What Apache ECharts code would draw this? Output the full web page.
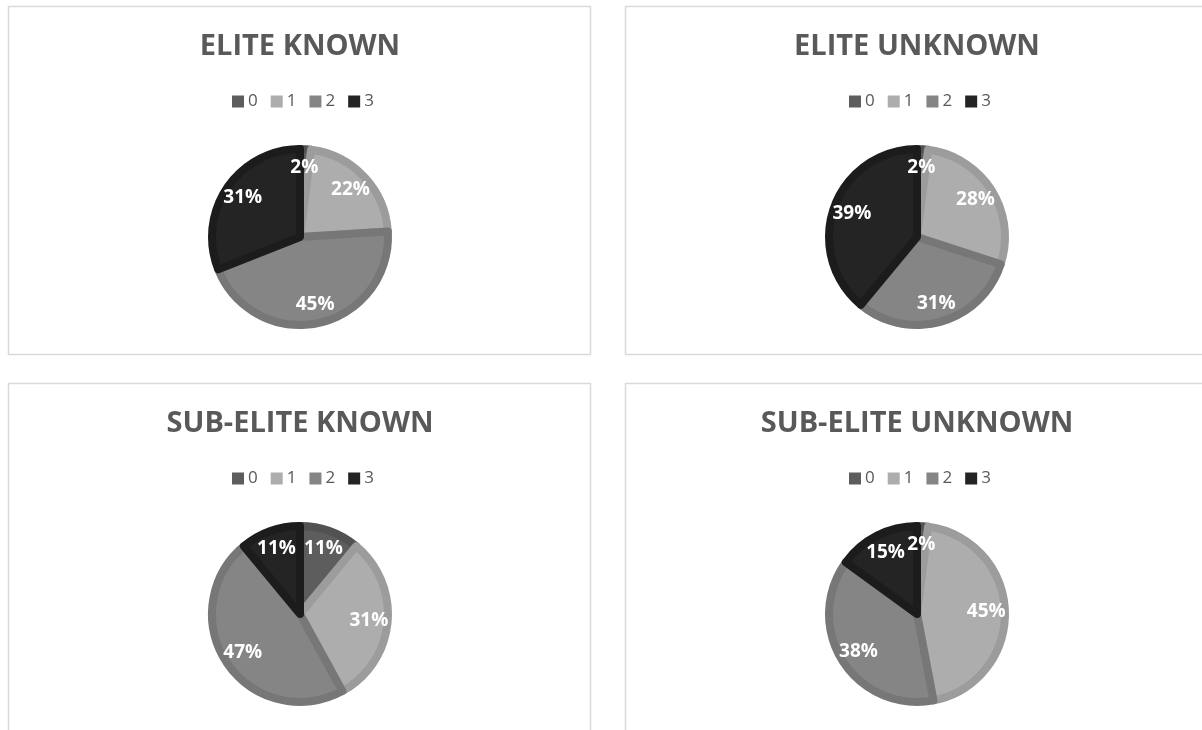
<!DOCTYPE html>
<html>
<head>
<meta charset="utf-8">
<script src="https://cdn.jsdelivr.net/npm/echarts@6/dist/echarts.min.js"></script>
<style>
  html, body { margin: 0; padding: 0; background: #fff; }
  #main { width: 1202px; height: 730px; }
</style>
</head>
<body>
<div id="main"></div>
<script>
// data
const categories = ['0', '1', '2', '3'];
const eliteKnown = [2, 22, 45, 31];
const eliteUnknown = [2, 28, 31, 39];
const subEliteKnown = [11, 31, 47, 11];
const subEliteUnknown = [2, 45, 38, 15];
const panelTitles = ['ELITE KNOWN', 'ELITE UNKNOWN', 'SUB-ELITE KNOWN', 'SUB-ELITE UNKNOWN'];
const panelValues = [eliteKnown, eliteUnknown, subEliteKnown, subEliteUnknown];

// fill / bevel colours per category
const fillColors = ['#5d5d5d', '#adadad', '#858585', '#242424'];
const ringColors = ['#525252', '#9c9c9c', '#777777', '#1c1c1c'];

// panel boxes (left, top)
const panels = [
  { x: 8, y: 6 },
  { x: 625, y: 6 },
  { x: 8, y: 383 },
  { x: 625, y: 383 }
];
const panelW = 582, panelH = 348;
const R = 92;

const chart = echarts.init(document.getElementById('main'));

const titles = [], legends = [], mainSeries = [], labelSeries = [], graphics = [];

panels.forEach(function (p, i) {
  const cx = p.x + panelW / 2 + 1;
  graphics.push({
    type: 'rect',
    z: -10,
    shape: { x: p.x + 0.5, y: p.y + 0.5, width: panelW, height: panelH },
    style: { fill: '#fff', stroke: '#d9d9d9', lineWidth: 1.5 }
  });
  titles.push({
    text: panelTitles[i],
    left: cx,
    top: p.y + 26,
    textAlign: 'center',
    padding: 0,
    textStyle: {
      fontFamily: 'Open Sans',
      fontWeight: 'bold',
      fontSize: 29,
      color: '#595959'
    }
  });
  legends.push({
    data: categories,
    left: p.x + 224,
    top: p.y + 87,
    padding: 0,
    icon: 'rect',
    itemWidth: 12,
    itemHeight: 12,
    itemGap: 13,
    selectedMode: false,
    itemStyle: { borderWidth: 0 },
    textStyle: { fontFamily: 'Open Sans', fontSize: 17, color: '#595959', padding: [0, 0, 0, -1] }
  });
  const data = categories.map(function (c, k) {
    return {
      name: c,
      value: panelValues[i][k],
      itemStyle: { color: fillColors[k], borderColor: ringColors[k] }
    };
  });
  mainSeries.push({
    type: 'pie',
    center: [cx, p.y + 231],
    radius: [0, R - 4],
    startAngle: 90,
    clockwise: true,
    silent: true,
    label: { show: false },
    labelLine: { show: false },
    itemStyle: { borderWidth: 8 },
    emphasis: { disabled: true },
    data: data
  });
  labelSeries.push({
    type: 'pie',
    center: [cx, p.y + 231],
    radius: [R * 0.44, R],
    startAngle: 90,
    clockwise: true,
    silent: true,
    legendHoverLink: false,
    avoidLabelOverlap: false,
    itemStyle: { color: 'rgba(0,0,0,0)', borderWidth: 0 },
    labelLine: { show: false },
    emphasis: { disabled: true },
    label: {
      show: true,
      position: 'inside',
      formatter: function (q) { return q.value + '%'; },
      fontFamily: 'Open Sans',
      fontWeight: 'bold',
      fontSize: 19,
      color: '#ffffff'
    },
    data: categories.map(function (c, k) { return { name: c, value: panelValues[i][k] }; })
  });
});

chart.setOption({
  backgroundColor: '#ffffff',
  animation: false,
  title: titles,
  legend: legends,
  graphic: graphics,
  series: mainSeries.concat(labelSeries)
});
</script>
</body>
</html>
